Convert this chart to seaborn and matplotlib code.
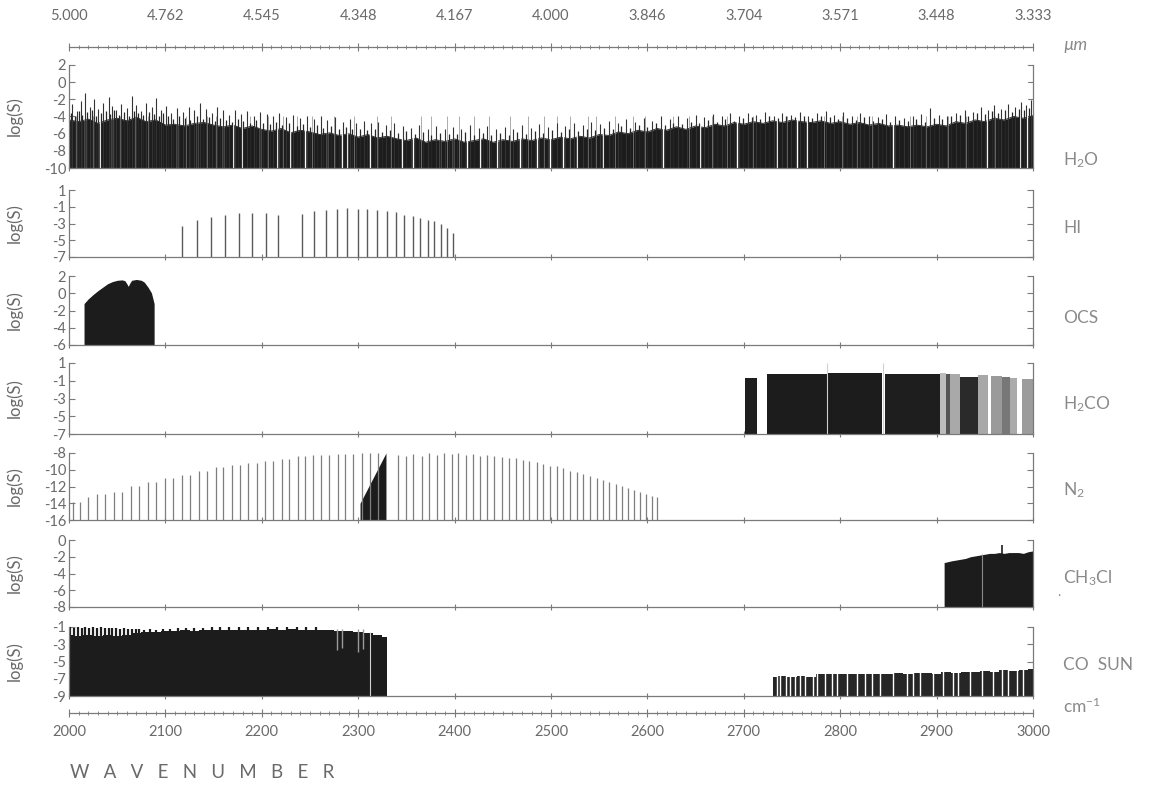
import matplotlib
matplotlib.use("Agg")
import matplotlib.pyplot as plt
import seaborn as sns
import pandas as pd

# ---------------- axis labelling ----------------
wn_ticks = [2000, 2100, 2200, 2300, 2400, 2500, 2600, 2700, 2800, 2900, 3000]
um_labels = ["5.000", "4.762", "4.545", "4.348", "4.167", "4.000",
             "3.846", "3.704", "3.571", "3.448", "3.333"]

panel_names = ["H$_{\\mathregular{2}}$O", "HI", "OCS", "H$_{\\mathregular{2}}$CO",
               "N$_{\\mathregular{2}}$", "CH$_{\\mathregular{3}}$Cl", "CO  SUN"]
panel_ticks = [[2, 0, -2, -4, -6, -8, -10],
               [1, -1, -3, -5, -7],
               [2, 0, -2, -4, -6],
               [1, -1, -3, -5, -7],
               [-8, -10, -12, -14, -16],
               [0, -2, -4, -6, -8],
               [-1, -3, -5, -7, -9]]

# ---------------- H2O ----------------
h2o_body_wn = list(range(2000, 3001, 10))
h2o_body = [-4.4, -4.6, -4.3, -4.8, -4.4, -4.2, -4.5, -4.1, -4.6, -4.4,
            -5.0, -4.9, -5.1, -4.8, -4.7, -5.0, -5.2, -5.0, -5.4, -5.1,
            -5.5, -5.7, -5.4, -5.9, -5.6, -5.8, -6.1, -5.9, -6.2, -6.0,
            -6.4, -6.1, -6.5, -6.3, -6.6, -6.8, -6.5, -7.0, -6.7, -6.9,
            -6.6, -7.0, -6.8, -6.6, -7.0, -6.7, -6.9, -6.6, -6.8, -6.5,
            -6.7, -6.4, -6.6, -6.3, -6.5, -6.1, -6.2, -5.8, -6.0, -5.6,
            -5.8, -5.4, -5.6, -5.2, -5.5, -5.1, -5.3, -4.9, -5.1, -4.7,
            -4.9, -4.6, -4.8, -4.5, -4.7, -4.4, -4.6, -4.7, -4.5, -4.8,
            -4.6, -4.9, -4.7, -5.0, -4.8, -5.1, -5.0, -5.2, -5.0, -5.2,
            -4.9, -5.1, -4.6, -4.8, -4.4, -4.6, -4.2, -4.4, -4.0, -4.2,
            -3.9]
# strongest lines
h2o_line_wn = [2003, 2008, 2012, 2017, 2022, 2026, 2030, 2035, 2041, 2045,
               2049, 2054, 2060, 2065, 2070, 2075, 2080, 2086, 2090, 2095,
               2101, 2106, 2112, 2118, 2124, 2130, 2136, 2142, 2148, 2154,
               2160, 2166, 2172, 2178, 2185, 2192, 2198, 2205, 2212, 2218,
               2225, 2232, 2240, 2247, 2254, 2261, 2268, 2276, 2284, 2291,
               2298, 2306, 2313, 2321, 2329, 2337, 2346, 2355, 2363, 2372,
               2381, 2390, 2398, 2407, 2416, 2425, 2434, 2443, 2452, 2461,
               2470, 2479, 2488, 2497, 2506, 2515, 2524, 2533, 2542, 2551,
               2560, 2569, 2578, 2587, 2596, 2605, 2614, 2623, 2632, 2641,
               2650, 2659, 2668, 2677, 2686, 2695, 2704, 2713, 2722, 2731,
               2740, 2749, 2758, 2767, 2776, 2785, 2794, 2803, 2812, 2821,
               2830, 2839, 2848, 2857, 2866, 2875, 2884, 2893, 2902, 2911,
               2920, 2929, 2938, 2946, 2953, 2960, 2967, 2974, 2981, 2988,
               2993, 2998]
h2o_line_logs = [-2.6, -3.4, -2.2, -1.3, -2.9, -2.0, -3.1, -2.4, -1.7, -2.8,
                 -3.3, -2.5, -3.0, -1.6, -2.7, -3.4, -2.4, -2.9, -1.9, -3.2,
                 -2.8, -3.6, -3.0, -3.5, -2.9, -3.3, -2.4, -3.1, -3.6, -2.9,
                 -3.2, -3.8, -3.3, -3.7, -3.4, -3.9, -3.5, -3.7, -4.0, -3.6,
                 -4.1, -3.8, -4.2, -3.9, -4.3, -4.0, -4.4, -4.1, -4.6, -4.3,
                 -4.7, -4.5, -4.8, -4.6, -5.0, -4.8, -5.1, -5.3, -5.0, -5.4,
                 -5.1, -5.5, -5.2, -5.4, -5.0, -5.3, -5.1, -5.5, -5.2, -5.4,
                 -5.0, -5.3, -4.9, -5.2, -4.8, -5.1, -4.7, -5.0, -4.6, -4.9,
                 -4.5, -4.7, -4.3, -4.6, -4.2, -4.5, -4.0, -4.3, -3.9, -4.2,
                 -3.8, -4.1, -3.7, -4.0, -3.6, -3.9, -3.6, -3.8, -3.5, -3.9,
                 -3.6, -3.8, -3.5, -3.9, -3.6, -3.4, -3.8, -3.5, -3.9, -3.6,
                 -3.9, -4.1, -3.7, -4.0, -4.2, -3.9, -3.7, -3.0, -3.8, -4.0,
                 -3.6, -3.2, -3.5, -2.9, -3.3, -2.7, -3.1, -2.6, -2.9, -2.3,
                 -2.7, -2.1]
# medium lines filling the forest
h2o_mid_wn = [2002, 2006, 2010, 2014, 2019, 2024, 2028, 2033, 2038, 2043,
              2047, 2052, 2057, 2062, 2067, 2072, 2077, 2083, 2088, 2093, 2098,
              2103, 2108, 2114, 2120, 2126, 2133, 2139, 2145, 2151, 2157,
              2163, 2169, 2175, 2181, 2188, 2194,
              2201, 2208, 2215, 2221, 2228, 2236, 2243, 2250, 2257, 2264,
              2272, 2280, 2287, 2294,
              2302, 2309, 2317, 2325, 2333, 2341, 2350, 2359, 2367, 2376,
              2385, 2394,
              2403, 2411, 2420, 2429, 2438, 2447, 2456, 2465, 2474, 2483, 2492,
              2501, 2510, 2519, 2528, 2537, 2546, 2555, 2564, 2573, 2582,
              2591, 2600,
              2609, 2618, 2627, 2636, 2645, 2654, 2663, 2672, 2681, 2690, 2699,
              2708, 2717, 2726, 2735, 2744, 2753, 2762, 2771, 2780, 2789, 2798,
              2807, 2816, 2825, 2834, 2843, 2852, 2861, 2870, 2879, 2888, 2897,
              2906, 2915, 2924, 2933, 2942, 2950, 2957, 2964, 2971, 2978,
              2985, 2991, 2996]
h2o_mid_logs = [-3.6, -3.9, -3.4, -3.8, -3.5, -3.3, -3.9, -3.6, -3.4, -3.7,
                -3.3, -3.8, -3.5, -3.9, -3.4, -3.6, -3.8, -3.5, -3.7, -3.9, -3.6,
                -4.0, -4.3, -3.9, -4.2, -4.4, -4.0, -4.3, -4.1, -4.5, -4.2,
                -4.4, -4.6, -4.3, -4.5, -4.7, -4.4,
                -4.7, -4.9, -4.6, -5.0, -4.8, -5.1, -4.9, -5.2, -5.0, -5.3,
                -5.1, -5.4, -5.2, -5.5,
                -5.4, -5.6, -5.5, -5.8, -5.6, -5.9, -5.7, -6.0, -5.8, -6.1,
                -5.9, -6.0,
                -6.0, -5.8, -6.1, -5.9, -6.2, -5.9, -6.1, -5.8, -6.0, -5.7, -5.9,
                -5.6, -5.8, -5.5, -5.7, -5.4, -5.6, -5.3, -5.5, -5.1, -5.3,
                -5.0, -5.2,
                -4.8, -5.0, -4.7, -4.9, -4.6, -4.8, -4.4, -4.6, -4.3, -4.5, -4.2,
                -4.1, -4.3, -4.0, -4.2, -3.9, -4.1, -4.0, -4.2, -3.9, -4.1, -4.3,
                -4.2, -4.4, -4.1, -4.5, -4.3, -4.6, -4.4, -4.5, -4.3, -4.6, -4.2,
                -4.3, -4.0, -3.8, -3.9, -3.6, -3.7, -3.4, -3.6, -3.3, -3.5,
                -3.1, -3.3, -3.0]
h2o_gap_wn = [2016.6, 2032.2, 2044.3, 2111.7, 2132.4, 2160.0, 2170.4, 2179.1,
              2198.1, 2215.4, 2229.3, 2244.8, 2267.3, 2282.9, 2288.1, 2312.2,
              2345.1, 2357.2, 2384.9, 2398.7, 2412.6, 2426.4, 2443.7, 2447.1,
              2467.8, 2485.2, 2499.0, 2512.8, 2526.7, 2554.3, 2616.5, 2654.6,
              2692.6, 2734.1, 2754.9, 2765.2, 2855.1, 2952.0, 2986.5, 2993.5]
h2o_faint_wn = [2007, 2025, 2053, 2068, 2082, 2097, 2121, 2143, 2152, 2188,
                2206, 2222, 2237, 2252, 2275, 2296, 2319, 2334, 2365, 2376,
                2392, 2405, 2420, 2436, 2457, 2476, 2493, 2506, 2520, 2538,
                2547, 2566, 2585, 2598, 2627, 2643, 2667, 2683, 2710, 2726,
                2745, 2783, 2802, 2817, 2833, 2872, 2889, 2912, 2931, 2961,
                2978]

# ---------------- HI ----------------
hi_wn = [2117.5, 2132.5, 2147.6, 2162.1, 2176.7, 2190.1, 2204.0, 2217.1,
         2242.0, 2254.1, 2266.3, 2277.7, 2288.7, 2299.5, 2309.4, 2319.5,
         2329.6, 2338.9, 2347.8, 2356.5, 2364.4, 2372.1, 2378.9, 2385.9,
         2392.4, 2398.3]
hi_logs = [-3.24, -2.55, -2.19, -1.95, -1.79, -1.75, -1.75, -1.95,
           -1.82, -1.55, -1.34, -1.22, -1.15, -1.27, -1.30, -1.39,
           -1.55, -1.63, -1.95, -2.15, -2.36, -2.55, -2.76, -3.04,
           -3.57, -4.18]

# ---------------- OCS ----------------
ocs_wn = [2015.6, 2020, 2025, 2030, 2035, 2040, 2045, 2050, 2055, 2058,
          2060, 2061.5, 2063, 2065, 2070, 2075, 2078, 2082, 2085.5, 2088.3]
ocs_logs = [-1.2, -0.65, -0.15, 0.3, 0.7, 1.1, 1.35, 1.5, 1.55, 1.45,
            1.1, 0.8, 1.15, 1.5, 1.6, 1.5, 1.3, 0.7, 0.05, -1.2]

# ---------------- H2CO ----------------
h2co_start = [2701.5, 2723.6, 2787.7, 2846.0, 2904.0, 2910.0, 2914.0, 2924.0,
              2943.0, 2956.0, 2968.0, 2976.0, 2989.0]
h2co_end = [2714.0, 2786.0, 2843.0, 2904.0, 2910.0, 2914.0, 2924.0, 2943.0,
            2953.0, 2968.0, 2976.0, 2983.0, 3000.0]
h2co_logs = [-0.65, -0.2, -0.15, -0.25, -0.1, -0.2, -0.25, -0.55,
             -0.35, -0.45, -0.6, -0.7, -0.85]
h2co_shade = ["#1e1e1e", "#1c1c1c", "#1c1c1c", "#1e1e1e", "#bdbdbd", "#555555",
              "#a9a9a9", "#2a2a2a", "#a8a8a8", "#9a9a9a", "#777777", "#ababab",
              "#9c9c9c"]

# ---------------- N2 ----------------
n2_wn = [2003.8, 2011.4, 2019.4, 2028.7, 2037.3, 2047.0, 2055.3, 2064.3,
         2072.9, 2082.3, 2090.2, 2099.6, 2108.2, 2116.9, 2125.5, 2134.9,
         2142.8, 2152.2, 2160.1, 2168.8, 2177.4, 2186.0, 2194.7, 2203.3,
         2211.9, 2220.6, 2228.5, 2237.2, 2244.8, 2253.4, 2261.4, 2270.0,
         2278.7, 2286.3, 2294.9, 2303.6, 2312.2, 2320.2,
         2341.6, 2349.6, 2357.2, 2365.9, 2373.4, 2381.4, 2389.0, 2397.0,
         2403.8, 2411.5, 2419.4, 2426.3, 2433.9, 2441.2, 2448.9, 2456.4,
         2463.4, 2470.6, 2477.5, 2485.2, 2492.0, 2499.0, 2505.9, 2512.8,
         2519.7, 2526.7, 2533.5, 2540.5, 2547.4, 2554.3, 2560.5, 2567.1,
         2573.7, 2580.2, 2586.1, 2592.4, 2598.5, 2604.5, 2610.3]
n2_logs = [-13.8, -13.8, -13.3, -12.9, -12.9, -12.6, -12.6, -11.9,
           -11.9, -11.5, -11.5, -11.0, -11.0, -10.6, -10.6, -10.1,
           -10.1, -9.7, -9.7, -9.4, -9.4, -9.2, -9.2, -8.9,
           -8.9, -8.7, -8.7, -8.4, -8.4, -8.2, -8.2, -8.2,
           -8.1, -8.1, -8.1, -8.0, -8.0, -8.0,
           -8.2, -8.4, -8.1, -8.3, -8.0, -8.2, -8.0, -8.1,
           -8.0, -8.2, -8.1, -8.3, -8.2, -8.4, -8.5, -8.6,
           -8.6, -8.8, -9.0, -9.1, -9.3, -9.5, -9.6, -9.8,
           -10.1, -10.3, -10.5, -10.8, -11.0, -11.2, -11.5, -11.7,
           -11.9, -12.2, -12.4, -12.6, -12.9, -13.1, -13.3]
n2_band_wn = [2301.9, 2328.8]
n2_band_logs = [-14.0, -8.0]

# ---------------- CH3Cl ----------------
ch3cl_wn = [2907.8, 2915, 2920, 2925, 2930, 2935, 2940, 2945, 2950, 2955,
            2960, 2965, 2970, 2975, 2980, 2985, 2990, 2995, 3000]
ch3cl_logs = [-2.7, -2.5, -2.4, -2.3, -2.2, -2.0, -1.9, -1.8, -1.7, -1.6,
              -1.6, -1.5, -1.6, -1.5, -1.5, -1.5, -1.6, -1.4, -1.3]
ch3cl_peak_wn = [2967.5]
ch3cl_peak_logs = [-0.6]

# ---------------- CO / solar ----------------
co_low_wn = list(range(2000, 2331, 10))
co_low = [-1.9, -2.0, -1.9, -2.0, -1.9, -2.0, -1.9, -1.7, -1.6, -1.6,
          -1.5, -1.5, -1.4, -1.5, -1.4, -1.4, -1.3, -1.4, -1.3, -1.3,
          -1.3, -1.2, -1.3, -1.2, -1.3, -1.3, -1.4, -1.4, -1.5, -1.5,
          -1.6, -1.7, -1.9, -2.2]
co_line_wn = [2001, 2005, 2009, 2013, 2017, 2021, 2025, 2029, 2033, 2037,
              2041, 2045, 2049, 2053, 2057, 2061, 2065, 2069, 2073, 2078,
              2084, 2090, 2097, 2105, 2113, 2121, 2130, 2139, 2148, 2157,
              2166, 2176, 2186, 2196, 2206, 2216, 2226, 2236, 2246, 2256]
co_line_logs = [-1.0, -1.1, -1.0, -1.1, -1.05, -1.1, -1.05, -1.1, -1.05, -1.15,
                -1.1, -1.15, -1.1, -1.2, -1.15, -1.2, -1.2, -1.25, -1.2, -1.3,
                -1.25, -1.3, -1.2, -1.2, -1.15, -1.15, -1.1, -1.1, -1.05, -1.05,
                -1.0, -1.0, -1.0, -1.0, -0.95, -1.0, -0.95, -1.0, -1.0, -1.05]
co_weak_wn = [2277.7, 2282.9, 2300.1, 2305.3]
co_weak_logs = [-3.7, -3.4, -3.9, -3.6]
co_high_wn = list(range(2730, 3001, 10))
co_high = [-6.8, -6.7, -6.8, -6.7, -6.8, -6.4, -6.5, -6.4, -6.5, -6.4,
           -6.4, -6.5, -6.4, -6.3, -6.4, -6.3, -6.3, -6.4, -6.2, -6.3,
           -6.2, -6.2, -6.1, -6.2, -6.0, -6.1, -6.0, -5.9]
co_gap_wn = [2734.1, 2737.6, 2743.8, 2748.0, 2753.1, 2758.3, 2763.5, 2772.1,
             2776.3, 2784.2, 2791.2, 2796.4, 2806.7, 2817.1, 2825.7, 2832.7,
             2841.3, 2855.1, 2869.0, 2875.9, 2882.8, 2896.6, 2907.0, 2917.4,
             2922.6, 2934.7, 2946.8, 2958.8, 2967.5, 2974.4, 2983.1, 2989.9]

# ---------------- style ----------------
sns.set_theme(style="ticks")
plt.rcParams["font.family"] = ["Lato", "DejaVu Sans"]
plt.rcParams["mathtext.default"] = "regular"

INK = "#1c1c1c"
AXC = "#7a7a7a"
TXT = "#6a6a6a"
LBL = "#8a8a8a"

W_PX, H_PX = 1155, 788
fig = plt.figure(figsize=(W_PX / 100, H_PX / 100), dpi=100)
fig.patch.set_facecolor("white")

X0, X1 = 69, 1033
left = X0 / W_PX
width = (X1 - X0) / W_PX

# panel (top, bottom) in pixels
panel_px = [(65, 168), (190, 257), (276, 345), (363, 434),
            (453, 520), (540, 607), (627, 696)]
label_y = [160, 228, 318, 404, 490, 578, 665]


def add_panel(top, bottom):
    return fig.add_axes([left, 1 - bottom / H_PX, width, (bottom - top) / H_PX])


axes = []
for i, (top, bot) in enumerate(panel_px):
    ax = add_panel(top, bot)
    ticks = panel_ticks[i]
    ax.set_xlim(2000, 3000)
    ax.set_ylim(min(ticks), max(ticks))
    ax.set_yticks(ticks)
    ax.set_yticklabels([str(t) for t in ticks])
    ax.set_xticks(wn_ticks)
    ax.set_xticklabels([])
    ax.spines["top"].set_visible(False)
    for s in ("left", "right", "bottom"):
        ax.spines[s].set_color(AXC)
        ax.spines[s].set_linewidth(0.9)
    ax.tick_params(axis="y", which="major", left=True, right=True, direction="in",
                   length=4, width=0.8, color=AXC, labelsize=10.5,
                   labelcolor=TXT, pad=2)
    ax.tick_params(axis="x", which="major", bottom=True, direction="inout",
                   length=5, width=0.8, color=AXC)
    ax.set_ylabel("log(S)", fontsize=12, color=TXT)
    ax.yaxis.set_label_coords(-0.048, 0.5)
    ax.patch.set_alpha(0)
    fig.text(1063 / W_PX, 1 - label_y[i] / H_PX, panel_names[i], fontsize=12.5,
             color=LBL, va="center", ha="left")
    axes.append(ax)

ax_h2o, ax_hi, ax_ocs, ax_h2co, ax_n2, ax_ch3cl, ax_co = axes

# H2O: dense line forest
ax_h2o.fill_between(h2o_body_wn, -10, h2o_body, color=INK, lw=0)
sns.lineplot(x=h2o_body_wn, y=h2o_body, ax=ax_h2o, color=INK, lw=0.6,
             legend=False)
ax_h2o.vlines(h2o_faint_wn, -10, -4, color="#8a8a8a", lw=0.5)
ax_h2o.vlines(h2o_gap_wn, -10, 2, color="white", lw=1.0)
ax_h2o.vlines(h2o_mid_wn, -10, h2o_mid_logs, color="#262626", lw=0.9)
ax_h2o.vlines(h2o_line_wn, -10, h2o_line_logs, color="#333333", lw=0.8)

# HI: isolated lines
ax_hi.vlines(hi_wn, -7, hi_logs, color="#5a5a5a", lw=1.0)

# OCS band
ax_ocs.fill_between(ocs_wn, -6, ocs_logs, color=INK, lw=0)

# H2CO band blocks
h2co_df = pd.DataFrame({"start": h2co_start, "end": h2co_end,
                        "top": h2co_logs, "shade": h2co_shade})
ax_h2co.bar(h2co_df["start"], h2co_df["top"] + 7, width=h2co_df["end"] - h2co_df["start"],
            bottom=-7, align="edge", color=h2co_df["shade"], lw=0)
ax_h2co.vlines([2786.5, 2844.5], -7, 1, color="#cfcfcf", lw=0.8)

# N2: quadrupole lines plus the dense band
ax_n2.vlines(n2_wn, -16, n2_logs, color="#7e7e7e", lw=0.9)
ax_n2.fill_between(n2_band_wn, -16, n2_band_logs, color=INK, lw=0)

# CH3Cl band
ax_ch3cl.fill_between(ch3cl_wn, -8, ch3cl_logs, color=INK, lw=0)
ax_ch3cl.vlines(ch3cl_peak_wn, -8, ch3cl_peak_logs, color=INK, lw=1.2)
ax_ch3cl.vlines([2946.8], -8, -1.7, color="#8a8a8a", lw=0.8)

# CO and solar lines
ax_co.fill_between(co_low_wn[:-1] + [2329.6], -9, co_low, step="mid", color=INK, lw=0)
ax_co.vlines(co_line_wn, -9, co_line_logs, color=INK, lw=1.6)
ax_co.vlines(co_weak_wn, co_weak_logs, -1.2, color="#9a9a9a", lw=1.0)
ax_co.vlines([2312.0], -9, -1.6, color="#d0d0d0", lw=0.8)
ax_co.fill_between(co_high_wn, -9, co_high, step="mid", color="#262626", lw=0)
ax_co.vlines(co_gap_wn, -9, -5.5, color="white", lw=1.0)


# wavelength scale on top, wavenumber scale at bottom
def scale_axis(y_px, labels, where, pad):
    a = fig.add_axes([left, 1 - y_px / H_PX, width, 1e-4])
    a.set_xlim(2000, 3000)
    a.set_yticks([])
    for s in a.spines.values():
        s.set_visible(False)
    a.spines[where].set_visible(True)
    a.spines[where].set_color(AXC)
    a.spines[where].set_linewidth(0.9)
    a.xaxis.set_ticks_position(where)
    a.set_xticks(wn_ticks)
    a.set_xticks(list(range(2000, 3001, 10)), minor=True)
    a.set_xticklabels(labels)
    a.tick_params(axis="x", which="major", direction="inout", length=6, width=0.8,
                  color=AXC, labelsize=10.5, labelcolor=TXT, pad=pad)
    a.tick_params(axis="x", which="minor", direction="inout", length=3, width=0.6,
                  color=AXC)
    return a


scale_axis(47, um_labels, "top", 14)
scale_axis(713, [str(t) for t in wn_ticks], "bottom", 6)

fig.text(1063 / W_PX, 1 - 45 / H_PX, "µm", fontsize=12.5, color=LBL,
         style="italic", va="center", ha="left")
fig.text(1063 / W_PX, 1 - 706 / H_PX, "cm$^{-1}$", fontsize=12.5, color=LBL,
         va="center", ha="left")
fig.text(1057 / W_PX, 1 - 592 / H_PX, ".", fontsize=10, color=LBL,
         va="center", ha="left")
fig.text(70 / W_PX, 1 - 773 / H_PX, "W   A   V   E   N   U   M   B   E   R",
         fontsize=13.5, color=TXT, va="center", ha="left")

fig.savefig("out.png", dpi=100, facecolor="white")
